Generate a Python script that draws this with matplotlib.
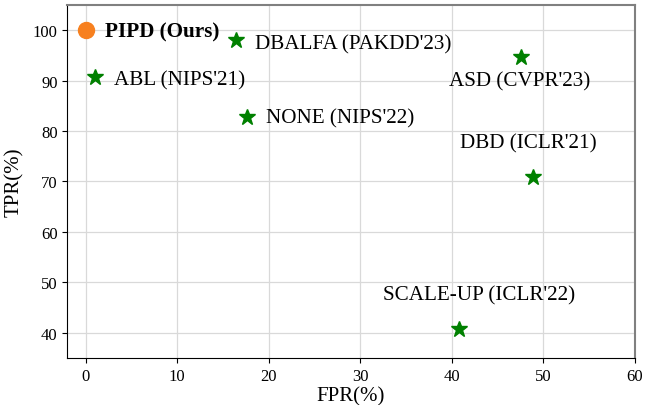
import matplotlib.pyplot as plt

plt.rcParams['font.family'] = ['Liberation Serif', 'DejaVu Serif']

methods = ["ABL (NIPS'21)", "DBALFA (PAKDD'23)", "NONE (NIPS'22)", "ASD (CVPR'23)",
           "DBD (ICLR'21)", "SCALE-UP (ICLR'22)"]
fpr = [1.0, 16.4, 17.6, 47.6, 48.9, 40.8]
tpr = [90.7, 98.0, 82.8, 94.7, 70.8, 40.7]
ours_name = "PIPD (Ours)"
ours_fpr = 0.1
ours_tpr = 100.0

# label offsets in pixels
offsets = [(19, -3, 'left'), (19, -3, 'left'), (19, -1, 'left'), (-2, -24, 'center'),
           (-5, 35, 'center'), (20, 34, 'center')]

fig, ax = plt.subplots(figsize=(6.53, 4.06), dpi=100)
fig.subplots_adjust(left=0.103, right=0.972, top=0.985, bottom=0.116)

ax.grid(True, color='#d9d9d9', linewidth=0.9, zorder=0)
ax.set_axisbelow(True)

ax.plot(fpr, tpr, linestyle='none', marker='*', markersize=12, color='green', zorder=3)
ax.plot([ours_fpr], [ours_tpr], linestyle='none', marker='o', markersize=11.5,
        color='#f7801f', zorder=3)

for name, x, y, (dx, dy, ha) in zip(methods, fpr, tpr, offsets):
    ax.annotate(name, (x, y), xytext=(dx, dy), textcoords='offset pixels',
                ha=ha, va='center', fontsize=15.2)
ax.annotate(ours_name, (ours_fpr, ours_tpr), xytext=(19, -1), textcoords='offset pixels',
            ha='left', va='center', fontsize=15.2, fontweight='bold')

ax.set_xlim(-2, 60)
ax.set_ylim(35, 105)
ax.set_xticks(range(0, 61, 10))
ax.set_yticks(range(40, 101, 10))
ax.tick_params(labelsize=12)
ax.set_xlabel('FPR(%)', fontsize=15, labelpad=2)
ax.set_ylabel('TPR(%)', fontsize=15, labelpad=6)

for s in ['top', 'right']:
    ax.spines[s].set_color('#808080')
    ax.spines[s].set_linewidth(1.5)

plt.savefig('out.png', dpi=100)
